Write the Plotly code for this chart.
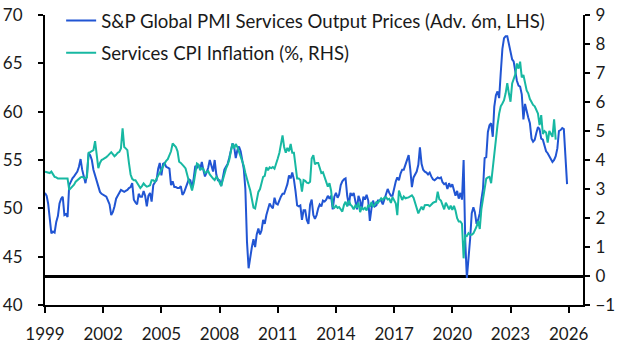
import pandas as pd
import plotly.graph_objects as go

# --- Data (monthly) ---
pmi_start = "1999-01-01"
pmi_output_prices = [
    # 1999
    51.6, 51.3, 50.5, 49.0, 47.4, 47.6, 47.5, 48.6, 49.2, 50.5, 51.0, 51.2,
    # 2000
    49.3, 49.4, 49.1, 52.4, 52.8, 53.1, 53.3, 53.5, 53.8, 54.3, 55.1, 54.0,
    # 2001
    53.3, 52.6, 53.5, 55.7, 55.5, 55.0, 54.0, 53.4, 52.8, 52.2, 51.7, 51.5,
    # 2002
    51.4, 51.3, 51.2, 50.8, 50.4, 49.3, 49.6, 50.2, 51.0, 51.3, 51.6, 51.9,
    # 2003
    51.8, 51.7, 51.8, 51.9, 52.1, 52.2, 52.6, 50.9, 50.6, 50.4, 51.5, 51.2,
    # 2004
    51.2, 51.8, 51.3, 50.2, 51.3, 51.6, 50.7, 52.4, 52.7, 52.9, 54.1, 54.7,
    # 2005
    53.4, 54.6, 54.7, 54.3, 54.2, 54.1, 52.4, 52.8, 52.2, 52.2, 52.1, 52.1,
    # 2006
    52.3, 51.4, 51.6, 52.1, 52.4, 53.0, 52.9, 52.1, 53.1, 54.4, 54.2, 54.5,
    # 2007
    54.1, 54.8, 54.0, 53.3, 53.7, 54.2, 55.0, 54.5, 53.8, 55.0, 53.5, 52.9,
    # 2008
    52.9, 52.3, 53.2, 54.0, 54.3, 54.6, 55.2, 56.0, 56.7, 56.4, 55.2, 56.0,
    # 2009
    56.4, 55.9, 55.2, 54.1, 52.0, 46.5, 43.8, 45.0, 46.0, 46.8, 46.0, 47.3,
    # 2010
    47.9, 47.3, 47.7, 48.8, 48.4, 49.3, 50.0, 50.5, 50.2, 50.0, 51.1, 50.5,
    # 2011
    50.4, 50.9, 51.2, 51.5, 51.5, 52.0, 52.5, 53.4, 53.1, 53.7, 53.0, 51.8,
    # 2012
    50.3, 50.2, 50.3, 48.8, 49.8, 49.8, 48.8, 48.4, 50.4, 50.9, 49.3, 48.9,
    # 2013
    49.3, 50.0, 50.4, 50.2, 50.8, 50.7, 50.9, 51.3, 51.0, 51.3, 49.9, 51.2,
    # 2014
    51.6, 51.1, 51.4, 52.4, 52.8, 53.0, 53.1, 51.3, 50.3, 51.6, 51.3, 51.6,
    # 2015
    50.5, 49.9, 51.3, 50.8, 49.9, 51.2, 50.9, 51.4, 50.8, 48.7, 50.0, 50.8,
    # 2016
    50.2, 50.3, 50.8, 50.8, 50.8, 50.4, 51.0, 51.6, 52.0, 51.6, 51.3, 51.3,
    # 2017
    52.1, 52.8, 53.2, 52.9, 53.6, 54.0, 54.0, 54.5, 54.8, 55.5, 54.0, 52.2,
    # 2018
    53.2, 53.5, 53.8, 54.5, 56.3, 54.6, 54.0, 53.8, 53.7, 53.5, 53.7, 53.3,
    # 2019
    53.0, 52.9, 53.1, 53.2, 53.1, 53.2, 52.7, 52.5, 52.6, 52.0, 52.6, 52.2,
    # 2020
    52.5, 51.7, 51.3, 51.8, 51.0, 51.6, 50.9, 55.0, 46.6, 42.8, 44.6, 46.8,
    # 2021
    49.5, 50.1, 49.6, 48.4, 48.8, 49.5, 50.9, 52.0, 55.2, 55.3, 57.9, 58.6,
    # 2022
    58.8, 57.4, 60.5, 61.7, 62.1, 61.4, 64.0, 66.5, 67.6, 67.8, 67.8, 67.0,
    # 2023
    65.9, 65.4, 65.2, 64.0, 63.2, 62.7, 62.6, 61.8, 59.2, 60.8, 60.0, 59.4,
    # 2024
    58.8, 57.2, 56.9, 57.1, 57.8, 58.4, 58.2, 57.2, 57.1, 56.4, 55.9, 55.7,
    # 2025
    55.4, 55.1, 54.8, 55.0, 55.4, 56.2, 58.0, 58.1, 58.3, 58.2, 55.8, 52.5,
]

cpi_start = "1999-01-01"
services_cpi = [
    # 1999
    3.60, 3.58, 3.55, 3.55, 3.60, 3.50, 3.42, 3.40, 3.36, 3.36, 3.36, 3.36,
    # 2000
    3.36, 3.36, 3.36, 2.97, 3.02, 3.08, 3.15, 3.25, 3.30, 3.36, 3.40, 3.42,
    # 2001
    3.40, 3.36, 3.40, 4.25, 4.27, 4.30, 4.34, 4.65, 4.25, 3.72, 3.90, 4.00,
    # 2002
    4.03, 4.06, 4.10, 4.15, 4.22, 4.27, 4.20, 4.13, 4.18, 4.25, 4.28, 4.40,
    # 2003
    5.09, 4.45, 4.40, 4.34, 3.89, 3.50, 3.35, 3.30, 3.30, 3.20, 3.10, 3.03,
    # 2004
    3.10, 3.19, 3.13, 3.08, 3.10, 3.13, 3.30, 3.30, 3.25, 3.35, 3.48, 3.56,
    # 2005
    3.68, 3.78, 3.90, 3.97, 4.03, 4.20, 4.30, 4.57, 4.52, 4.45, 4.30, 3.94,
    # 2006
    3.90, 3.85, 3.78, 3.71, 3.45, 3.28, 3.15, 2.95, 3.20, 3.60, 3.88, 3.84,
    # 2007
    3.65, 3.72, 3.70, 3.55, 3.60, 3.62, 3.50, 3.42, 3.36, 3.31, 3.42, 3.35,
    # 2008
    3.22, 3.10, 3.30, 3.55, 3.70, 3.83, 4.00, 4.30, 4.57, 4.40, 4.55, 4.45,
    # 2009
    4.28, 4.11, 3.95, 3.80, 3.55, 3.30, 3.15, 2.95, 2.62, 2.36, 2.33, 2.65,
    # 2010
    2.90, 3.00, 3.20, 3.42, 3.45, 3.75, 3.65, 3.75, 3.72, 3.76, 3.70, 3.85,
    # 2011
    4.05, 4.25, 4.50, 4.85, 4.45, 4.25, 4.42, 4.30, 4.55, 4.25, 4.25, 3.85,
    # 2012
    3.36, 3.36, 3.31, 2.91, 3.31, 3.28, 3.22, 3.20, 3.25, 4.05, 4.17, 3.85,
    # 2013
    3.90, 3.90, 3.70, 3.55, 3.58, 3.40, 3.20, 3.08, 3.20, 2.95, 2.40, 2.35,
    # 2014
    2.42, 2.35, 2.38, 2.30, 2.22, 2.45, 2.56, 2.40, 2.60, 2.46, 2.40, 2.30,
    # 2015
    2.43, 2.36, 2.53, 2.20, 2.36, 2.30, 2.35, 2.26, 2.45, 2.38, 2.55, 2.40,
    # 2016
    2.45, 2.55, 2.52, 2.60, 2.68, 2.62, 2.70, 2.72, 2.64, 2.66, 2.52, 2.72,
    # 2017
    2.62, 2.50, 2.10, 2.95, 2.78, 2.62, 2.74, 2.68, 2.70, 2.71, 2.75, 2.78,
    # 2018
    2.70, 2.50, 2.35, 2.16, 2.28, 2.39, 2.28, 2.44, 2.45, 2.45, 2.41, 2.48,
    # 2019
    2.52, 2.55, 2.56, 2.91, 2.65, 2.60, 2.48, 2.30, 2.53, 2.40, 2.30, 2.43,
    # 2020
    2.28, 2.42, 2.26, 1.99, 1.88, 1.88, 1.80, 0.61, 1.40, 1.38, 1.48, 1.42,
    # 2021
    1.42, 1.47, 1.57, 1.70, 1.90, 1.62, 2.30, 2.70, 3.15, 3.36, 3.40, 3.42,
    # 2022
    3.20, 3.75, 4.35, 4.90, 5.20, 5.60, 5.85, 5.95, 6.06, 6.30, 6.65, 6.30,
    # 2023
    6.01, 6.64, 6.82, 6.95, 7.33, 7.15, 7.39, 6.85, 6.93, 6.64, 6.40, 6.30,
    # 2024
    6.10, 6.00, 5.90, 5.85, 5.70, 5.60, 5.20, 5.55, 4.90, 5.00, 4.95, 4.60,
    # 2025
    5.00, 4.90, 4.80, 5.40, 4.70,
]

x_tick_years = [1999, 2002, 2005, 2008, 2011, 2014, 2017, 2020, 2023, 2026]
lhs_ticks = [40, 45, 50, 55, 60, 65, 70]
rhs_ticks = [-1, 0, 1, 2, 3, 4, 5, 6, 7, 8, 9]

pmi_name = "S&P Global PMI Services Output Prices (Adv. 6m, LHS)"
cpi_name = "Services CPI Inflation (%, RHS)"

BLUE = "#2155d3"
TEAL = "#17b8a2"
FONT = "Lato"
TXT = "#1a1a1a"

pmi_dates = pd.date_range(pmi_start, periods=len(pmi_output_prices), freq="MS")
cpi_dates = pd.date_range(cpi_start, periods=len(services_cpi), freq="MS")

fig = go.Figure()
fig.add_trace(go.Scatter(
    x=pmi_dates, y=pmi_output_prices, name=pmi_name, mode="lines",
    line=dict(color=BLUE, width=2), yaxis="y", legendgroup="a",
))
fig.add_trace(go.Scatter(
    x=cpi_dates, y=services_cpi, name=cpi_name, mode="lines",
    line=dict(color=TEAL, width=2), yaxis="y2", legendgroup="b",
))

tick_dates = [f"{y}-01-01" for y in x_tick_years]

fig.update_layout(
    template="none",
    width=631, height=357,
    margin=dict(l=45, r=48, t=15, b=52, autoexpand=False),
    paper_bgcolor="white", plot_bgcolor="white",
    font=dict(family=FONT, size=17, color=TXT),
    showlegend=True,
    legend=dict(
        x=0.03, y=1.045, xanchor="left", yanchor="top",
        bgcolor="rgba(0,0,0,0)", borderwidth=0,
        font=dict(family=FONT, size=18.6, color=TXT),
        tracegroupgap=5,
    ),
    xaxis=dict(
        type="date", range=["1999-01-01", "2026-09-27"], automargin=False,
        tickmode="array", tickvals=tick_dates, ticktext=[str(y) for y in x_tick_years],
        ticks="outside", ticklen=6, tickwidth=2, tickcolor="black",
        showline=True, linecolor="black", linewidth=2,
        showgrid=False, zeroline=False,
        tickfont=dict(size=17, color=TXT), ticklabelstandoff=7,
    ),
    yaxis=dict(
        range=[40, 70], tickmode="array", tickvals=lhs_ticks, automargin=False,
        ticks="outside", ticklen=5, tickwidth=2, tickcolor="black",
        showline=True, linecolor="black", linewidth=2,
        showgrid=False, zeroline=False,
        tickfont=dict(size=17, color=TXT), ticklabelstandoff=12,
    ),
    yaxis2=dict(
        range=[-1, 9], tickmode="array", tickvals=rhs_ticks, automargin=False,
        overlaying="y", side="right",
        ticks="outside", ticklen=5, tickwidth=2, tickcolor="black",
        showline=True, linecolor="black", linewidth=2,
        showgrid=False, zeroline=True, zerolinecolor="black", zerolinewidth=3,
        tickfont=dict(size=17, color=TXT), ticklabelstandoff=2,
    ),
)

# remove the browser's default 8px page margin so the figure fills the window
fig.write_html(
    "out.html",
    config={"displayModeBar": False},
    post_script="document.body.style.margin='0';",
)
